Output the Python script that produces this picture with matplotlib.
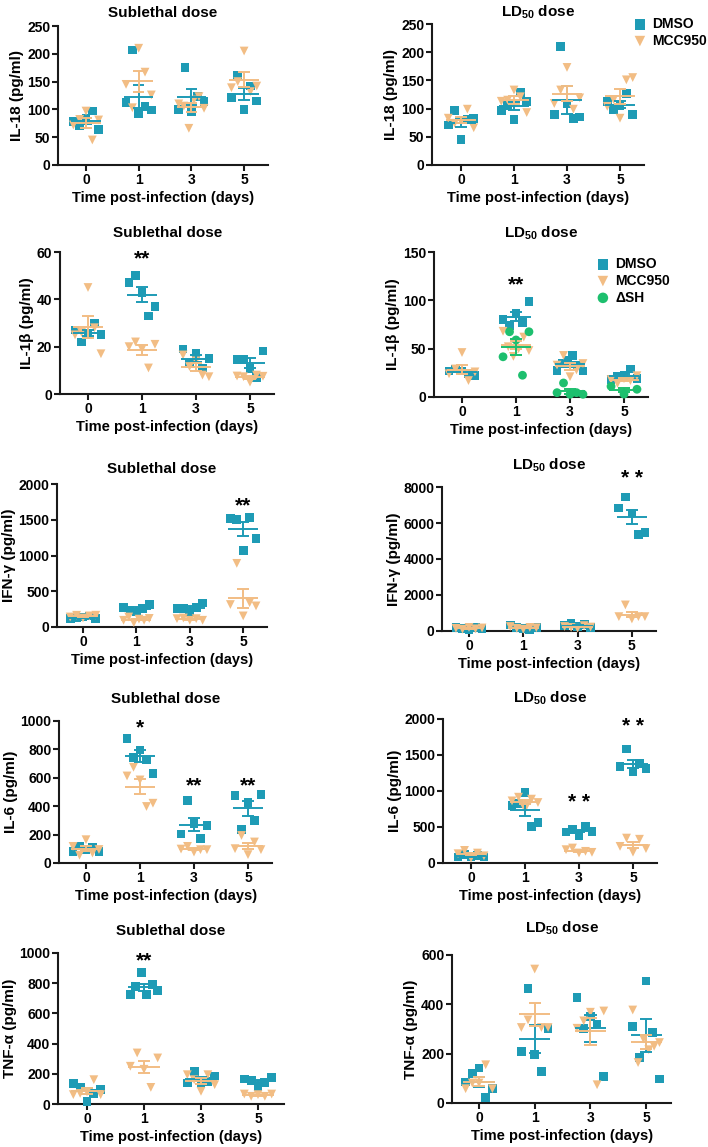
import numpy as np
import matplotlib
matplotlib.use("Agg")
import matplotlib.pyplot as plt

plt.rcParams.update({
    "font.family": ["Liberation Sans", "DejaVu Sans"],
    "font.weight": "bold",
    "axes.labelweight": "bold",
    "axes.titleweight": "bold",
    "mathtext.fontset": "custom",
    "mathtext.rm": "Liberation Sans:bold",
    "mathtext.bf": "Liberation Sans:bold",
    "mathtext.default": "bf",
})

W, H = 708, 1147
TEAL = "#1E9BB5"
TAN = "#F2BD84"
GREEN = "#1DBF6E"
AXC = "#1a1a1a"

days = ["0", "1", "3", "5"]

# ---------------- data (pg/ml), one list per day ----------------
il18_sub_dmso = [[78, 70, 84, 97, 64], [112, 207, 92, 105, 99], [100, 176, 96, 123, 114], [121, 161, 100, 142, 115]]
il18_sub_mcc = [[72, 82, 97, 45, 81], [145, 103, 210, 167, 126], [110, 106, 66, 117, 123, 102], [139, 150, 205, 132, 142]]
il18_ld_dmso = [[71, 96, 45, 80, 83], [97, 105, 81, 128, 112], [89, 210, 109, 82, 85], [112, 99, 105, 127, 90]]
il18_ld_mcc = [[83, 74, 78, 99, 66], [113, 115, 133, 121, 93], [109, 133, 173, 99, 119], [104, 116, 83, 151, 155]]

il1b_sub_dmso = [[27, 22, 25, 30, 25], [47, 50, 43, 33, 37], [19, 13, 17, 11, 15], [14.7, 14.7, 10.9, 7, 18.2]]
il1b_sub_mcc = [[25, 26, 45, 28, 17], [20, 22, 19, 11, 21], [16.5, 11.6, 14, 8, 7.3], [7.6, 7.3, 5, 8, 7.5]]
il1b_ld_dmso = [[27, 29, 27, 24, 22.5], [80, 74, 86, 77, 99], [27.7, 34.6, 38, 43, 33, 27], [18, 21, 22, 29, 19]]
il1b_ld_mcc = [[24, 29, 46, 17, 26], [68, 52, 42, 50, 62, 48], [33, 43, 21, 28, 34.6], [18, 14, 19, 17, 22]]
il1b_ld_dsh = [[], [41.6, 67.5, 59, 22.5, 67.5], [4.5, 14.5, 2.8, 4.5, 2.8], [11, 3, 8]]

ifng_sub_dmso = [[117, 130, 140, 155, 117], [272, 234, 211, 255, 314], [258, 258, 211, 270, 337], [1513, 1499, 1068, 1536, 1241]]
ifng_sub_mcc = [[140, 164, 126, 155, 165], [94, 140, 60, 110, 94, 120], [117, 126, 94, 117, 94], [314, 890, 155, 340, 295]]
ifng_ld_dmso = [[200, 150, 100, 180, 120], [330, 200, 150, 100, 180], [300, 427, 250, 350, 200], [6830, 7443, 6552, 5382, 5494]]
ifng_ld_mcc = [[150, 100, 200, 120, 170], [250, 150, 100, 200, 180], [250, 200, 150, 300, 220], [798, 1448, 668, 798, 798]]

il6_sub_dmso = [[82, 120, 94, 110, 82], [878, 742, 796, 726, 628], [204, 438, 276, 171, 265], [475, 234, 426, 300, 485]]
il6_sub_mcc = [[117, 55, 164, 70, 95], [613, 674, 585, 398, 421], [98, 117, 77, 94, 94], [101, 194, 59, 148, 94]]
il6_ld_dmso = [[83, 115, 92, 100, 83], [794, 831, 979, 508, 563], [430, 462, 383, 508, 439], [1340, 1584, 1270, 1386, 1316]]
il6_ld_mcc = [[129, 175, 69, 138, 100], [863, 914, 748, 887, 840], [185, 208, 139, 162, 148], [231, 346, 150, 330, 200]]

tnf_sub_dmso = [[135, 110, 18, 70, 95], [724, 779, 872, 724, 790, 753], [139, 216, 140, 150, 185], [166, 155, 117, 140, 177]]
tnf_sub_mcc = [[62, 70, 80, 161, 62], [250, 338, 230, 110, 305], [194, 161, 84, 194, 128], [66, 51, 62, 51, 66]]
tnf_ld_dmso = [[85, 119, 142, 23, 58], [209, 465, 196, 128, 301], [429, 303, 351, 320, 108], [310, 186, 495, 287, 97]]
tnf_ld_mcc = [[58, 81, 81, 155, 58], [306, 337, 543, 306, 306], [303, 333, 368, 74, 373], [377, 164, 260, 216, 230, 245]]

# significance marks: (day index, y value, text)
il1b_sub_stars = [(1, 57, "**")]
il1b_ld_stars = [(1, 116, "**")]
ifng_sub_stars = [(3, 1700, "**")]
ifng_ld_stars = [(3, 8450, "* *")]
il6_sub_stars = [(1, 950, "*"), (2, 545, "**"), (3, 545, "**")]
il6_ld_stars = [(2, 840, "* *"), (3, 1890, "* *")]
tnf_sub_stars = [(1, 950, "**")]

SUB = "Sublethal dose"
LD = r"LD$_{50}$ dose"

# axis x px, day-0 px, px per day slot, y=0 px, y=top px, title gap px
panels = [
    dict(title=SUB, ylabel="IL-18 (pg/ml)", yt=[0, 50, 100, 150, 200, 250], series=[il18_sub_dmso, il18_sub_mcc], stars=[], px=(58, 86, 52.7, 165, 26, 14)),
    dict(title=LD, ylabel="IL-18 (pg/ml)", yt=[0, 50, 100, 150, 200, 250], series=[il18_ld_dmso, il18_ld_mcc], stars=[], px=(432, 461, 53, 165, 24, 12), legend=(626, 10)),
    dict(title=SUB, ylabel="IL-1β (pg/ml)", yt=[0, 20, 40, 60], series=[il1b_sub_dmso, il1b_sub_mcc], stars=il1b_sub_stars, px=(60, 88, 54, 394, 252, 20)),
    dict(title=LD, ylabel="IL-1β (pg/ml)", yt=[0, 50, 100, 150], series=[il1b_ld_dmso, il1b_ld_mcc, il1b_ld_dsh], stars=il1b_ld_stars, px=(434, 462, 54, 397, 252, 19), legend=(589, 250)),
    dict(title=SUB, ylabel="IFN-γ (pg/ml)", yt=[0, 500, 1000, 1500, 2000], series=[ifng_sub_dmso, ifng_sub_mcc], stars=ifng_sub_stars, px=(57, 83, 53.4, 627, 484, 16)),
    dict(title=LD, ylabel="IFN-γ (pg/ml)", yt=[0, 2000, 4000, 6000, 8000], series=[ifng_ld_dmso, ifng_ld_mcc], stars=ifng_ld_stars, px=(442, 469, 54.3, 631, 487, 22)),
    dict(title=SUB, ylabel="IL-6 (pg/ml)", yt=[0, 200, 400, 600, 800, 1000], series=[il6_sub_dmso, il6_sub_mcc], stars=il6_sub_stars, px=(59, 86, 54, 863, 721, 23)),
    dict(title=LD, ylabel="IL-6 (pg/ml)", yt=[0, 500, 1000, 1500, 2000], series=[il6_ld_dmso, il6_ld_mcc], stars=il6_ld_stars, px=(443, 471, 54, 863, 719, 21)),
    dict(title=SUB, ylabel="TNF-α (pg/ml)", yt=[0, 200, 400, 600, 800, 1000], series=[tnf_sub_dmso, tnf_sub_mcc], stars=tnf_sub_stars, px=(58, 87, 57, 1104, 953, 23)),
    dict(title=LD, ylabel="TNF-α (pg/ml)", yt=[0, 200, 400, 600], series=[tnf_ld_dmso, tnf_ld_mcc], stars=[], px=(452, 479, 55.7, 1103, 955, 27)),
]

styles = [
    dict(marker="s", color=TEAL, label="DMSO"),
    dict(marker="v", color=TAN, label="MCC950"),
    dict(marker="o", color=GREEN, label="ΔSH"),
]

fig = plt.figure(figsize=(W / 100, H / 100), dpi=100)

for p in panels:
    ax_x, g0, sp, y0, ytop, tgap = p["px"]
    xl, xr = -(g0 - ax_x) / sp, 3.45
    rect = [ax_x / W, 1 - y0 / H, (xr - xl) * sp / W, (y0 - ytop) / H]
    ax = fig.add_axes(rect)

    handles = []
    for data, st in zip(p["series"], styles):
        for i, vals in enumerate(data):
            if not vals:
                continue
            xs = i + np.linspace(-0.24, 0.24, len(vals))
            h = ax.scatter(xs, vals, marker=st["marker"], s=40, color=st["color"],
                           edgecolors="none", zorder=3, clip_on=False)
        handles.append(h)
    # mean +/- SEM on top of the dots
    for data, st in zip(p["series"], styles):
        for i, vals in enumerate(data):
            if not vals:
                continue
            v = np.array(vals, dtype=float)
            m = v.mean()
            se = v.std(ddof=1) / np.sqrt(len(v))
            ax.hlines(m, i - 0.28, i + 0.28, color=st["color"], lw=1.4, zorder=4)
            ax.vlines(i, m - se, m + se, color=st["color"], lw=1.4, zorder=4)
            ax.hlines([m - se, m + se], i - 0.11, i + 0.11, color=st["color"], lw=1.4, zorder=4)

    for i, yv, txt in p["stars"]:
        ax.text(i, yv, txt, ha="center", va="center", fontsize=15, fontweight="bold",
                color="black", clip_on=False)

    ax.set_xlim(xl, xr)
    ax.set_ylim(0, p["yt"][-1])
    ax.set_yticks(p["yt"])
    ax.set_xticks(range(4))
    ax.set_xticklabels(days)
    for s in ["top", "right"]:
        ax.spines[s].set_visible(False)
    for s in ["left", "bottom"]:
        ax.spines[s].set_linewidth(1.5)
        ax.spines[s].set_color(AXC)
    ax.tick_params(direction="out", length=4, width=1.5, color=AXC, labelsize=10, pad=1.5)
    for lab in ax.get_xticklabels() + ax.get_yticklabels():
        lab.set_fontweight("bold")
    ax.set_xlabel("Time post-infection (days)", fontsize=10.5, labelpad=3)
    ax.set_ylabel(p["ylabel"], fontsize=11, labelpad=2)
    ax.set_title(p["title"], fontsize=11, pad=(tgap - 5) * 0.72)

    if "legend" in p:
        lx, ly = p["legend"]
        ax.legend(handles=handles, labels=[st["label"] for st in styles[:len(handles)]],
                  loc="upper left", bbox_to_anchor=(lx / W, 1 - ly / H),
                  bbox_transform=fig.transFigure, frameon=False, borderpad=0,
                  handletextpad=0.4, labelspacing=0.2, handlelength=1.0,
                  markerscale=1.2, prop={"weight": "bold", "size": 10})

fig.savefig("out.png", dpi=100)
